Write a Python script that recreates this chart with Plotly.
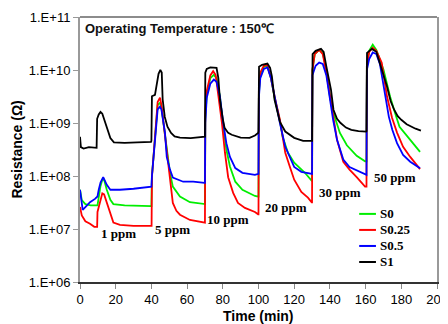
import math
import plotly.graph_objects as go

# ---------------- data ----------------
s0_t = [0, 1, 3, 6, 9.8, 10.5, 11.5, 12.5, 13.5, 15, 17, 18.7, 25, 39.8,
        40, 40.3, 41.2, 42.5, 43.5, 44.8, 45.6, 46.6, 48.6, 50.4, 52, 56, 61.6, 69.8,
        70, 70.2, 71, 73, 75, 76.5, 78.4, 80, 82, 84, 87, 91, 98, 99.8,
        100, 100.2, 101, 103, 105, 107, 109, 112, 113.5, 116.5, 120, 126, 129.8,
        130, 130.2, 131.5, 134, 136, 138, 140, 142, 145.6, 149.5, 155, 159.7, 160.4,
        160.5, 160.7, 162, 164, 166, 170, 173.7, 176.5, 179, 185, 190.5]
s0_r = [5.5e7, 3.5e7, 2.95e7, 2.8e7, 2.8e7, 4e7, 6.5e7, 8.5e7, 8.5e7, 5.5e7, 3.55e7, 2.95e7, 2.8e7, 2.7e7,
        2.7e7, 1e8, 2.5e8, 1.1e9, 2.2e9, 2.4e9, 2e9, 1.1e9, 3.16e8, 1.15e8, 6.3e7, 4.1e7, 3.2e7, 2.95e7,
        2.95e7, 1.2e9, 3.5e9, 7e9, 8.1e9, 7e9, 3.16e9, 1e9, 3.16e8, 1.51e8, 7.8e7, 5.5e7, 4.2e7, 4.1e7,
        4.1e7, 3.5e9, 8e9, 1.15e10, 1.2e10, 7e9, 3e9, 1.1e9, 5.5e8, 2.75e8, 1.78e8, 1.15e8, 8e7,
        8e7, 1e10, 2e10, 2.4e10, 2.1e10, 1e10, 3.16e9, 1.55e9, 6.5e8, 3.8e8, 2.4e8, 1.9e8, 1.9e8,
        1.9e8, 1.2e10, 2.3e10, 3e10, 2.4e10, 1.02e10, 3.16e9, 1.55e9, 8.5e8, 4.8e8, 2.85e8]

s025_t = [0, 1, 3, 5.6, 8, 9.6, 9.8, 11, 12.5, 13.5, 15, 17, 18.7, 22.4, 30, 39.8,
          40.1, 40.3, 41.2, 42.5, 43.5, 44.8, 45.6, 46.6, 48.6, 50.4, 52, 54, 56, 61.6, 69.8,
          70, 70.2, 71, 73, 74.6, 76, 77.3, 79.5, 81.2, 83, 85.8, 88.5, 92.4, 98, 99.8,
          100, 100.2, 101, 103, 104.8, 107, 109, 112, 115, 117.6, 120, 124, 127.7, 129.8,
          130, 130.2, 131.5, 134, 136, 138, 140, 141.8, 144, 147.5, 151, 155, 159.7, 160.4,
          160.5, 160.7, 162, 164, 166, 169, 172, 174.8, 177.6, 181, 185, 190.5]
s025_r = [2.6e7, 1.8e7, 1.4e7, 1.26e7, 1.1e7, 1.1e7, 2.1e7, 3.2e7, 4.7e7, 4.5e7, 3.2e7, 1.86e7, 1.32e7, 1.2e7, 1.15e7, 1.15e7,
          1.15e7, 9.5e7, 2.5e8, 1.2e9, 2.5e9, 3e9, 2.2e9, 1.15e9, 2.75e8, 8.5e7, 3.1e7, 2.2e7, 1.86e7, 1.48e7, 1.32e7,
          1.32e7, 1.6e9, 4e9, 7.9e9, 9.5e9, 8e9, 3.7e9, 1e9, 2.75e8, 9.5e7, 4.8e7, 3.1e7, 2.5e7, 2.1e7, 1.9e7,
          1.9e7, 4e9, 9e9, 1.2e10, 1.26e10, 7e9, 3.16e9, 1.15e9, 2.75e8, 1.48e8, 8.5e7, 5e7, 3.9e7, 3.2e7,
          3.2e7, 1e10, 2e10, 2.4e10, 2e10, 8.9e9, 3.16e9, 1.32e9, 4.8e8, 1.86e8, 1.32e8, 9.5e7, 6.3e7, 6.3e7,
          6.3e7, 1.2e10, 2.2e10, 2.63e10, 2.3e10, 1.38e10, 3.16e9, 1.26e9, 6.6e8, 3.55e8, 2.29e8, 1.35e8]

s05_t = [0, 1.5, 3, 5.6, 8.4, 9.8, 10.5, 11.5, 13, 15, 17, 22.4, 30, 39.8,
         40, 40.3, 41.2, 42.5, 43.5, 44.8, 45.6, 47.6, 48.6, 50.4, 52, 57.8, 63.4, 69.8,
         70, 70.2, 71, 73, 75, 76.5, 78.4, 80, 82, 84, 87, 91, 98, 99.8,
         100, 100.2, 101, 103, 105, 107, 109, 112, 115, 117.6, 120, 124, 129.8,
         130, 130.2, 132, 134, 136, 138, 140, 141.8, 144, 147.5, 151, 157, 160.4,
         160.5, 160.7, 162, 164, 166, 168, 171, 173, 175, 177.6, 181, 185, 190.5]
s05_r = [5.5e7, 2.3e7, 2.6e7, 3.2e7, 3.7e7, 4.1e7, 5.5e7, 7.5e7, 9.5e7, 6.8e7, 5.5e7, 5.5e7, 5.75e7, 6.3e7,
         6.3e7, 1e8, 2.3e8, 9e8, 1.8e9, 2.04e9, 1.8e9, 6.6e8, 2.29e8, 1.32e8, 9.3e7, 7.8e7, 7.8e7, 7.4e7,
         7.4e7, 1e9, 3e9, 5.5e9, 6.6e9, 6e9, 3.16e9, 1.15e9, 4.17e8, 2.29e8, 1.41e8, 1.15e8, 1.05e8, 1.1e8,
         1.1e8, 3e9, 7e9, 1.05e10, 1.12e10, 7e9, 3e9, 1e9, 3.55e8, 2.19e8, 1.48e8, 1.2e8, 1.1e8,
         1.1e8, 8e9, 1.2e10, 1.38e10, 1.3e10, 8e9, 2.75e9, 1.15e9, 4.8e8, 2.04e8, 1.48e8, 1.2e8, 1.05e8,
         1.05e8, 1e10, 1.6e10, 2.14e10, 2e10, 1.3e10, 3.16e9, 1.32e9, 7.4e8, 4.17e8, 2.5e8, 1.86e8, 1.4e8]

s1_t = [0, 0.5, 2, 5, 9.3, 9.6, 10.5, 11.5, 12.5, 13.2, 15, 17, 19, 25, 32, 39.8,
        40, 40.3, 42, 43, 44, 45, 45.8, 46.3, 47.5, 49, 51, 53, 56, 62, 69.8,
        70, 70.2, 71, 73, 76.5, 77.5, 78.4, 80, 81, 83, 85, 90, 95, 98, 99.8,
        100, 100.3, 102, 105, 106.5, 107.5, 109, 112, 115, 120, 125, 129.8,
        130, 130.3, 132, 135, 136.5, 138, 140.6, 142, 144, 146, 149, 152, 156, 160.3,
        160.5, 160.8, 163.5, 166, 168.6, 172, 174, 176, 178, 180, 183, 185.5, 188, 191]
s1_r = [5.5e8, 3.5e8, 3.3e8, 3.5e8, 3.4e8, 1.2e9, 1.45e9, 1.62e9, 1.5e9, 1.25e9, 8e8, 5.2e8, 4.3e8, 4.2e8, 4.3e8, 4.4e8,
        4.6e8, 3.2e9, 3.4e9, 5e9, 8.5e9, 1e10, 9e9, 2.8e9, 1.3e9, 8.5e8, 6.5e8, 5.6e8, 5.3e8, 5.2e8, 5.4e8,
        5.5e8, 8.9e9, 1.05e10, 1.12e10, 1.1e10, 7e9, 2.75e9, 1.2e9, 8.1e8, 6.5e8, 6e8, 5.3e8, 5.25e8, 5.8e8, 6.5e8,
        7e8, 1.15e10, 1.25e10, 1.32e10, 1.1e10, 7.6e9, 2.75e9, 1.05e9, 6.9e8, 5.25e8, 4.6e8, 4.5e8,
        4.6e8, 2e10, 2.3e10, 2.5e10, 2.2e10, 1.17e10, 4.27e9, 1.78e9, 1.2e9, 1e9, 8.2e8, 7.4e8, 7e8, 6.9e8,
        7e8, 2.1e10, 2.5e10, 2.2e10, 1.17e10, 4.9e9, 2.6e9, 1.78e9, 1.35e9, 1.15e9, 9.5e8, 8.5e8, 7.8e8, 7.2e8]

series_names = ["S0", "S0.25", "S0.5", "S1"]
series_colors = ["#00ee00", "#ff0000", "#0000ff", "#000000"]

ytick_vals = [1e6, 1e7, 1e8, 1e9, 1e10, 1e11]
ytick_text = ["1.E+06", "1.E+07", "1.E+08", "1.E+09", "1.E+10", "1.E+11"]
xtick_vals = [0, 20, 40, 60, 80, 100, 120, 140, 160, 180, 200]

conc_labels = ["1 ppm", "5 ppm", "10 ppm", "20 ppm", "30 ppm", "50 ppm"]
conc_x = [21.3, 52, 83, 115.5, 145.5, 176.5]
conc_y = [8.1e6, 1.0e7, 1.48e7, 2.6e7, 4.8e7, 9.5e7]

# ---------------- figure ----------------
fig = go.Figure()
for t, r, name, col in zip([s0_t, s025_t, s05_t, s1_t], [s0_r, s025_r, s05_r, s1_r],
                           series_names, series_colors):
    fig.add_trace(go.Scatter(x=t, y=r, mode="lines", name=name, showlegend=False,
                             line=dict(color=col, width=1.8)))

serif_bold = dict(family="Liberation Serif", size=13, color="black", weight="bold")
sans_bold = dict(family="Liberation Sans", size=14, color="black", weight="bold")

for lab, cx, cy in zip(conc_labels, conc_x, conc_y):
    fig.add_annotation(x=cx, y=math.log10(cy), yref="y", xref="x", text=lab, showarrow=False,
                       font=serif_bold, xanchor="center", yanchor="middle")

fig.add_annotation(x=0.008, y=0.958, xref="paper", yref="paper", xanchor="left", yanchor="middle",
                   text="Operating Temperature : 150\u2103", showarrow=False,
                   font=dict(family="Liberation Sans", size=13, color="#111", weight="bold"))

# axis titles
fig.add_annotation(x=-0.179, y=0.5, xref="paper", yref="paper", xanchor="center", yanchor="middle",
                   text="Resistance (\u03a9)", textangle=-90, showarrow=False, font=sans_bold)
fig.add_annotation(x=0.5, y=-0.127, xref="paper", yref="paper", xanchor="center", yanchor="middle",
                   text="Time (min)", showarrow=False, font=sans_bold)

# legend (compact, drawn as key lines + labels)
leg_x0, leg_x1, leg_tx = 0.782, 0.829, 0.834
leg_y0, leg_dy = 0.257, 0.0605
for i, (name, col) in enumerate(zip(series_names, series_colors)):
    yy = leg_y0 - i * leg_dy
    fig.add_shape(type="line", xref="paper", yref="paper", x0=leg_x0, x1=leg_x1, y0=yy, y1=yy,
                  line=dict(color=col, width=2))
    fig.add_annotation(x=leg_tx, y=yy, xref="paper", yref="paper", xanchor="left", yanchor="middle",
                       text=name, showarrow=False, font=serif_bold)

# top border of the frame
fig.add_shape(type="line", xref="paper", yref="paper", x0=0, x1=1, y0=1, y1=1,
              line=dict(color="#8c8c8c", width=2))

# page has an 8px body margin, so the figure is sized to fit the 448x324 window
fig.update_layout(
    width=440, height=316,
    margin=dict(l=72, r=11, t=9, b=42),
    paper_bgcolor="white", plot_bgcolor="white",
    showlegend=False,
    font=dict(family="Liberation Sans", color="black"),
)
fig.update_xaxes(range=[0, 200], tickvals=xtick_vals, ticks="outside", ticklen=5,
                 tickcolor="#888", showline=True, linecolor="#333", linewidth=1.5,
                 showgrid=False, zeroline=False, automargin=False,
                 tickfont=dict(family="Liberation Sans", size=13, color="black"))
fig.update_yaxes(type="log", range=[6, 11], tickvals=ytick_vals, ticktext=ytick_text,
                 ticks="outside", ticklen=5, tickcolor="#999", showline=True,
                 linecolor="#999", linewidth=2, mirror=True,
                 showgrid=False, zeroline=False, automargin=False,
                 tickfont=dict(family="Liberation Sans", size=13, color="black"))

fig.write_html("out.html")
